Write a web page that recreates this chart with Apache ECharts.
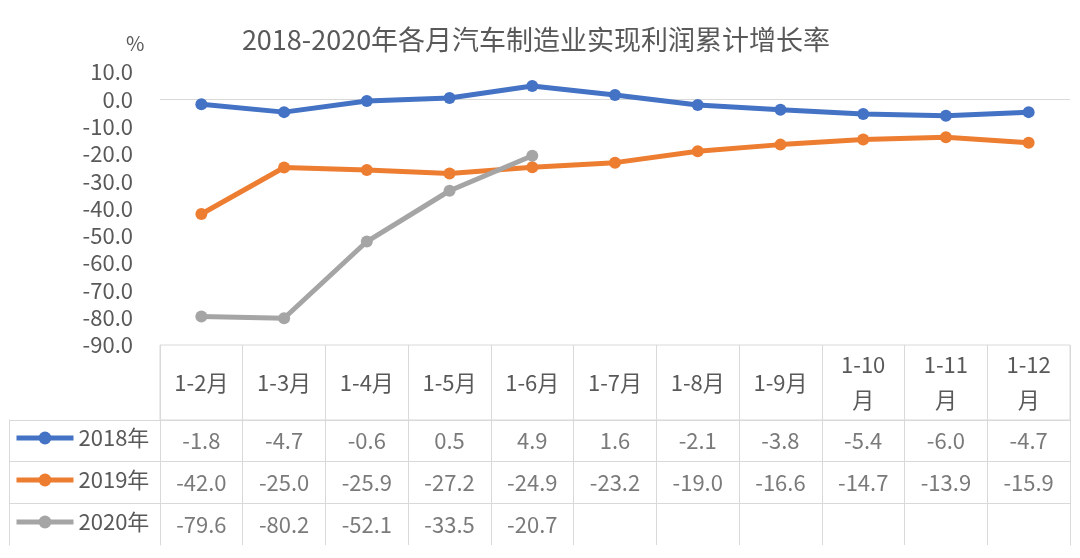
<!DOCTYPE html>
<html>
<head>
<meta charset="utf-8">
<script src="https://cdn.jsdelivr.net/npm/echarts@6/dist/echarts.min.js"></script>
<style>html,body{margin:0;padding:0;background:#fff;}#c{width:1080px;height:558px;}</style>
</head>
<body>
<div id="c"></div>
<script>
const titleText = '2018-2020年各月汽车制造业实现利润累计增长率';
const unitText = '%';
const categories = ['1-2月','1-3月','1-4月','1-5月','1-6月','1-7月','1-8月','1-9月','1-10月','1-11月','1-12月'];
const seriesNames = ['2018年','2019年','2020年'];
const data2018 = [-1.8, -4.7, -0.6, 0.5, 4.9, 1.6, -2.1, -3.8, -5.4, -6.0, -4.7];
const data2019 = [-42.0, -25.0, -25.9, -27.2, -24.9, -23.2, -19.0, -16.6, -14.7, -13.9, -15.9];
const data2020 = [-79.6, -80.2, -52.1, -33.5, -20.7, null, null, null, null, null, null];
const yMin = -90, yMax = 10, yStep = 10;

const colors = ['#4472C4', '#ED7D31', '#A5A5A5'];
const allData = [data2018, data2019, data2020];
const FONT = '"Noto Sans CJK SC", "Noto Sans", sans-serif';
const TXT = '#595959';
const BORDER = '#d9d9d9';
const FS = 22;

const chart = echarts.init(document.getElementById('c'), null, {renderer: 'canvas'});

const lineSeries = seriesNames.map((n, k) => ({
  name: n, type: 'line', xAxisIndex: 0, yAxisIndex: 0,
  data: allData[k],
  symbol: 'circle', symbolSize: 12,
  lineStyle: {width: 5, color: colors[k]},
  itemStyle: {color: colors[k]},
  z: 3 + k,
  markLine: k === 0 ? {
    silent: true, symbol: 'none', label: {show: false},
    lineStyle: {color: BORDER, width: 1, type: 'solid'},
    data: [{yAxis: 0}], z: 1
  } : undefined
}));

// table rows: axis is non-inverse so the bottom edge is tick index 0 (skipped)
const tableRows = seriesNames.slice().reverse();
const tableData = [];
allData.forEach((arr, r) => arr.forEach((v, i) => {
  if (v !== null) tableData.push([categories[i], seriesNames[r], v]);
}));
const skipBottom = (idx) => idx !== 0;

const option = {
  animation: false,
  textStyle: {fontFamily: FONT},
  title: [
    {text: titleText, left: 531, top: 21, textAlign: 'center',
     textStyle: {fontFamily: FONT, fontSize: 27, fontWeight: 'normal', color: TXT}},
    {text: unitText, left: 121, top: 28,
     textStyle: {fontFamily: FONT, fontSize: 20, fontWeight: 'normal', color: TXT}}
  ],
  legend: {
    data: seriesNames, orient: 'vertical', left: 14, top: 427, padding: 0,
    itemWidth: 57, itemHeight: 16, itemGap: 20,
    lineStyle: {width: 5},
    textStyle: {fontFamily: FONT, fontSize: FS, lineHeight: 22, color: TXT},
    selectedMode: false
  },
  grid: [
    {left: 160, right: 10, top: 72, height: 273},
    {left: 160, right: 10, top: 345, height: 75, show: true, borderColor: BORDER, borderWidth: 1, backgroundColor: 'transparent'},
    {left: 160, right: 10, top: 420, height: 125}
  ],
  xAxis: [
    {type: 'category', gridIndex: 0, data: categories, boundaryGap: true, position: 'bottom',
     axisLine: {show: false, onZero: false}, axisTick: {show: false},
     axisLabel: {margin: 37.5, verticalAlign: 'middle', lineHeight: 35, fontSize: FS, color: TXT, fontFamily: FONT, interval: 0,
       formatter: v => v.replace(/^(1-1\d)月$/, '$1\n月')}},
    {type: 'category', gridIndex: 1, data: categories, boundaryGap: true,
     axisLine: {show: false}, axisTick: {show: false}, axisLabel: {show: false},
     splitLine: {show: true, interval: 0, lineStyle: {color: BORDER, width: 1}}},
    {type: 'category', gridIndex: 2, data: categories, boundaryGap: true, position: 'top',
     axisLine: {show: true, lineStyle: {color: BORDER, width: 1}}, axisTick: {show: false}, axisLabel: {show: false},
     splitLine: {show: true, interval: 0, lineStyle: {color: BORDER, width: 1}}}
  ],
  yAxis: [
    {type: 'value', gridIndex: 0, min: yMin, max: yMax, interval: yStep,
     axisLine: {show: false}, axisTick: {show: false}, splitLine: {show: false},
     axisLabel: {margin: 27, fontSize: FS, color: TXT, fontFamily: FONT, formatter: v => v.toFixed(1)}},
    {type: 'value', gridIndex: 1, min: 0, max: 1, show: false},
    {type: 'category', gridIndex: 2, data: tableRows, position: 'left',
     axisLine: {show: true, lineStyle: {color: BORDER, width: 1}},
     axisTick: {show: true, length: 151, interval: skipBottom, lineStyle: {color: BORDER, width: 1}},
     axisLabel: {show: false},
     splitLine: {show: true, interval: skipBottom, lineStyle: {color: BORDER, width: 1}}},
    {type: 'category', gridIndex: 2, data: tableRows, position: 'left', offset: 151,
     axisLine: {show: true, lineStyle: {color: BORDER, width: 1}}, axisTick: {show: false}, axisLabel: {show: false}},
    {type: 'category', gridIndex: 2, data: tableRows, position: 'right',
     axisLine: {show: true, lineStyle: {color: BORDER, width: 1}}, axisTick: {show: false}, axisLabel: {show: false}}
  ],
  series: lineSeries.concat([{
    name: 'table', type: 'scatter', xAxisIndex: 2, yAxisIndex: 2,
    data: tableData, encode: {x: 0, y: 1},
    symbol: 'circle', symbolSize: 2, itemStyle: {color: 'rgba(255,255,255,0)'}, silent: true,
    label: {show: true, position: 'inside', fontSize: FS, color: TXT, fontFamily: FONT,
      formatter: p => p.value[2].toFixed(1)}
  }])
};
chart.setOption(option);
</script>
</body>
</html>
